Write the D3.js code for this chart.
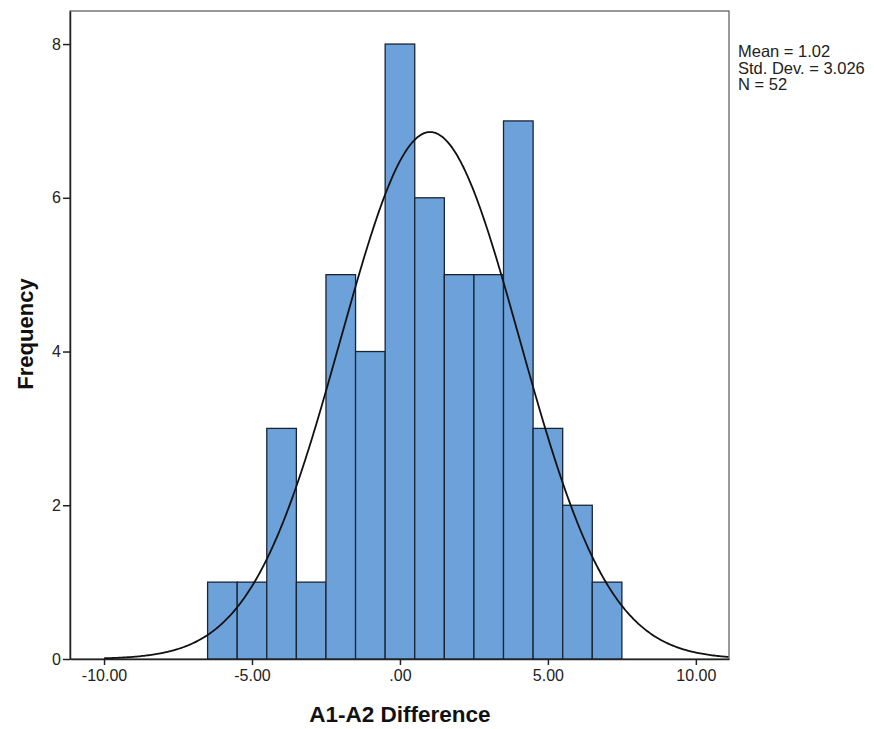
<!DOCTYPE html>
<html>
<head>
<meta charset="utf-8">
<script src="https://cdn.jsdelivr.net/npm/d3@7"></script>
<style>
  body { margin: 0; background: #fff; }
  text { font-family: "Liberation Sans", Arial, sans-serif; }
</style>
</head>
<body>
<div id="chart"></div>
<script>
// bin lower edges (width 1) and counts
var binStarts = [-6.5, -5.5, -4.5, -3.5, -2.5, -1.5, -0.5, 0.5, 1.5, 2.5, 3.5, 4.5, 5.5, 6.5];
var binCounts = [1, 1, 3, 1, 5, 4, 8, 6, 5, 5, 7, 3, 2, 1];
var xTicks = [-10, -5, 0, 5, 10];
var xTickLabels = ["-10.00", "-5.00", ".00", "5.00", "10.00"];
var yTicks = [0, 2, 4, 6, 8];
var statLines = ["Mean = 1.02", "Std. Dev. = 3.026", "N = 52"];
var mean = 1.02, sd = 3.026, n = 52, binWidth = 1;

var width = 874, height = 729;
var plotL = 70, plotR = 729, plotT = 11, plotB = 659;

var svg = d3.select("#chart").append("svg")
    .attr("width", width)
    .attr("height", height);

var x = d3.scaleLinear().domain([-11.15, 11.12]).range([plotL, plotR]);
var y = d3.scaleLinear().domain([0, 8.43]).range([plotB, plotT]);

// frame
svg.append("rect")
    .attr("x", plotL).attr("y", plotT)
    .attr("width", plotR - plotL).attr("height", plotB - plotT)
    .attr("fill", "#fff")
    .attr("stroke", "#555").attr("stroke-width", 1.2);

// bars
svg.append("g").selectAll("rect")
    .data(binStarts)
    .join("rect")
    .attr("x", function(d) { return x(d); })
    .attr("y", function(d, i) { return y(binCounts[i]); })
    .attr("width", function(d) { return x(d + binWidth) - x(d); })
    .attr("height", function(d, i) { return y(0) - y(binCounts[i]); })
    .attr("fill", "#6ca1d9")
    .attr("stroke", "#1a2533")
    .attr("stroke-width", 1.3);

// normal curve
var pts = d3.range(-10, 11.12, 0.05);
var line = d3.line()
    .x(function(d) { return x(d); })
    .y(function(d) {
        var z = (d - mean) / sd;
        return y(n * binWidth * Math.exp(-0.5 * z * z) / (sd * Math.sqrt(2 * Math.PI)));
    });
svg.append("path")
    .datum(pts)
    .attr("d", line)
    .attr("fill", "none")
    .attr("stroke", "#111")
    .attr("stroke-width", 1.8);

// axes
var xAxis = svg.append("g")
    .attr("transform", "translate(0," + plotB + ")")
    .call(d3.axisBottom(x).tickValues(xTicks).tickSize(6).tickSizeOuter(0).tickPadding(5)
        .tickFormat(function(d, i) { return xTickLabels[i]; }));
xAxis.select(".domain").attr("stroke", "#222").attr("stroke-width", 1.5);
xAxis.selectAll("line").attr("stroke", "#222").attr("stroke-width", 1.5);
xAxis.selectAll("text").attr("font-size", 16).attr("fill", "#222")
    .style("font-family", "Liberation Sans, Arial, sans-serif");

var yAxis = svg.append("g")
    .attr("transform", "translate(" + plotL + ",0)")
    .call(d3.axisLeft(y).tickValues(yTicks).tickSize(7).tickSizeOuter(0).tickPadding(2));
yAxis.select(".domain").attr("stroke", "#222").attr("stroke-width", 1.5);
yAxis.selectAll("line").attr("stroke", "#222").attr("stroke-width", 1.5);
yAxis.selectAll("text").attr("font-size", 16).attr("fill", "#222")
    .style("font-family", "Liberation Sans, Arial, sans-serif");

// titles
svg.append("text")
    .attr("x", x(0)).attr("y", 722)
    .attr("text-anchor", "middle")
    .attr("font-size", 22.5).attr("font-weight", "bold").attr("fill", "#111")
    .text("A1-A2 Difference");

svg.append("text")
    .attr("transform", "translate(33,334) rotate(-90)")
    .attr("text-anchor", "middle")
    .attr("font-size", 22).attr("font-weight", "bold").attr("fill", "#111")
    .text("Frequency");

// stats box
svg.append("g").selectAll("text")
    .data(statLines)
    .join("text")
    .attr("x", 738)
    .attr("y", function(d, i) { return 57 + i * 16.5; })
    .attr("font-size", 16.5).attr("fill", "#222")
    .text(function(d) { return d; });
</script>
</body>
</html>
